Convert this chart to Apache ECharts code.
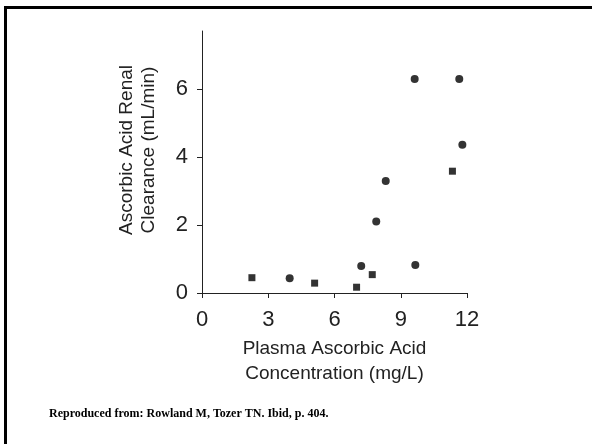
<!DOCTYPE html>
<html>
<head>
<meta charset="utf-8">
<script src="https://cdn.jsdelivr.net/npm/echarts@6/dist/echarts.min.js"></script>
<style>
  html, body { margin: 0; padding: 0; background: #fff; }
  #chart { width: 592px; height: 444px; }
</style>
</head>
<body>
<div id="chart"></div>
<script>
// plasma concentration (mg/L) vs renal clearance (mL/min)
const circleX = [3.97, 7.21, 7.89, 8.32, 9.63, 9.66, 11.65, 11.79];
const circleY = [0.43, 0.79, 2.10, 3.29, 6.29, 0.82, 6.29, 4.36];
const squareX = [2.26, 5.10, 7.00, 7.71, 11.34];
const squareY = [0.45, 0.29, 0.17, 0.54, 3.58];
const xTicks = [0, 3, 6, 9, 12];
const yTicks = [0, 2, 4, 6];

const font = '"Liberation Sans", Arial, sans-serif';
const zip = (xs, ys) => xs.map((x, i) => [x, ys[i]]);

const chart = echarts.init(document.getElementById('chart'));
const option = {
  animation: false,
  backgroundColor: '#fff',
  grid: { left: 202, right: 125, top: 31, bottom: 151 },
  xAxis: {
    type: 'value',
    min: 0,
    max: 12,
    interval: 3,
    splitLine: { show: false },
    axisLine: { lineStyle: { color: '#222', width: 1 } },
    axisTick: { length: 5, lineStyle: { color: '#222' }, customValues: xTicks },
    axisLabel: { color: '#222', fontSize: 22, fontFamily: font, margin: 16, customValues: xTicks },
    name: 'Plasma Ascorbic Acid\nConcentration (mg/L)',
    nameLocation: 'middle',
    nameGap: 41,
    nameTextStyle: { color: '#222', fontSize: 19, fontFamily: font, lineHeight: 25, verticalAlign: 'top' },
  },
  yAxis: {
    type: 'value',
    min: 0,
    max: 7.7,
    splitLine: { show: false },
    axisLine: { show: true, lineStyle: { color: '#222', width: 1 } },
    axisTick: { show: true, length: 5, lineStyle: { color: '#222' }, customValues: yTicks },
    axisLabel: { color: '#222', fontSize: 22, fontFamily: font, margin: 14, customValues: yTicks },
    name: 'Ascorbic Acid Renal\nClearance (mL/min)',
    nameLocation: 'middle',
    nameRotate: 90,
    nameGap: 42,
    nameTextStyle: { color: '#222', fontSize: 19, fontFamily: font, lineHeight: 22, padding: [0, 0, 0, 24] },
  },
  series: [
    {
      type: 'scatter',
      symbol: 'circle',
      symbolSize: 8,
      itemStyle: { color: '#000' },
      data: zip(circleX, circleY),
    },
    {
      type: 'scatter',
      symbol: 'rect',
      symbolSize: 7,
      itemStyle: { color: '#000' },
      data: zip(squareX, squareY),
    },
  ],
  graphic: [
    { type: 'rect', shape: { x: 4, y: 6, width: 588, height: 3 }, style: { fill: '#000' } },
    { type: 'rect', shape: { x: 4, y: 6, width: 3, height: 438 }, style: { fill: '#000' } },
    {
      type: 'text',
      left: 49,
      top: 408,
      style: {
        text: 'Reproduced from: Rowland M, Tozer TN. Ibid, p. 404.',
        fontFamily: '"Liberation Serif", "Times New Roman", serif',
        fontWeight: 'bold',
        fontSize: 12,
        fill: '#000',
      },
    },
  ],
};
chart.setOption(option);
</script>
</body>
</html>
